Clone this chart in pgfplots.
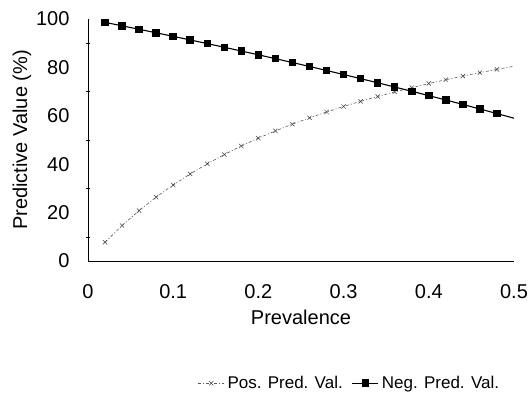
\documentclass[border=0pt]{standalone}
\usepackage{fontspec}
\setmainfont{Liberation Sans}
\usepackage{pgfplots}
\pgfplotsset{compat=1.18}
\begin{document}
\begin{tikzpicture}
\begin{axis}[
  at={(0,0)}, anchor=south west,
  scale only axis,
  width=426pt, height=242pt,
  xmin=0, xmax=0.5, ymin=0, ymax=100,
  axis lines=left,
  axis line style={-, line width=0.9pt},
  xtick={0,0.1,0.2,0.3,0.4,0.5},
  ytick={0,20,40,60,80,100},
  xticklabels={0,0.1,0.2,0.3,0.4,0.5},
  minor y tick num=1,
  tick style={black, line width=0.5pt},
  tick align=center,
  major tick length=0pt, minor tick length=4pt,
  xtick style={draw=none},
  /pgf/number format/assume math mode=true,
  tick label style={font=\fontsize{20}{22}\selectfont},
  xticklabel style={yshift=-20pt},
  yticklabel style={xshift=-15pt},
  label style={font=\fontsize{20}{22}\selectfont},
  xlabel={Prevalence},
  ylabel={Predictive Value (\%)},
  xlabel style={yshift=-4pt},
  ylabel style={yshift=-2pt},
  legend style={at={(0.615,-0.505)}, anchor=center, draw=none, fill=none,
    font=\fontsize{17}{19}\selectfont, legend columns=2,
    /tikz/every even column/.append style={column sep=6pt},
    nodes={inner sep=3pt}},
  legend cell align=left,
  legend image code/.code={
    \draw[#1, mark indices={2}] plot coordinates {(0pt,0pt) (13pt,0pt) (26pt,0pt)};},
]
\addplot[gray!70!black, line width=0.6pt, dash pattern=on 3pt off 2pt on 1pt off 2pt, mark=x,
  mark size=3pt, mark options={solid, black!75, line width=0.5pt},
  mark indices={1,2,3,4,5,6,7,8,9,10,11,12,13,14,15,16,17,18,19,20,21,22,23,24}]
coordinates {
(0.02,7.76)(0.04,14.66)(0.06,20.84)(0.08,26.39)(0.10,31.42)(0.12,35.99)
(0.14,40.17)(0.16,43.99)(0.18,47.51)(0.20,50.76)(0.22,53.77)(0.24,56.56)
(0.26,59.16)(0.28,61.59)(0.30,63.86)(0.32,65.99)(0.34,67.99)(0.36,69.87)
(0.38,71.65)(0.40,73.33)(0.42,74.91)(0.44,76.41)(0.46,77.84)(0.48,79.19)
(0.50,80.48)};
\addlegendentry{Pos. Pred. Val.}
\addplot[black, line width=1.1pt, mark=square*, mark size=3.2pt,
  mark options={solid, black},
  mark indices={1,2,3,4,5,6,7,8,9,10,11,12,13,14,15,16,17,18,19,20,21,22,23,24}]
coordinates {
(0.02,98.60)(0.04,97.19)(0.06,95.75)(0.08,94.30)(0.10,92.83)(0.12,91.35)
(0.14,89.84)(0.16,88.31)(0.18,86.77)(0.20,85.20)(0.22,83.61)(0.24,82.01)
(0.26,80.38)(0.28,78.73)(0.30,77.05)(0.32,75.36)(0.34,73.64)(0.36,71.90)
(0.38,70.13)(0.40,68.34)(0.42,66.53)(0.44,64.69)(0.46,62.82)(0.48,60.92)
(0.50,59.00)};
\addlegendentry{Neg. Pred. Val.}
\end{axis}
\pgfresetboundingbox
\path[use as bounding box] (-88pt,-133pt) rectangle (441pt,261pt);
\end{tikzpicture}
\end{document}
